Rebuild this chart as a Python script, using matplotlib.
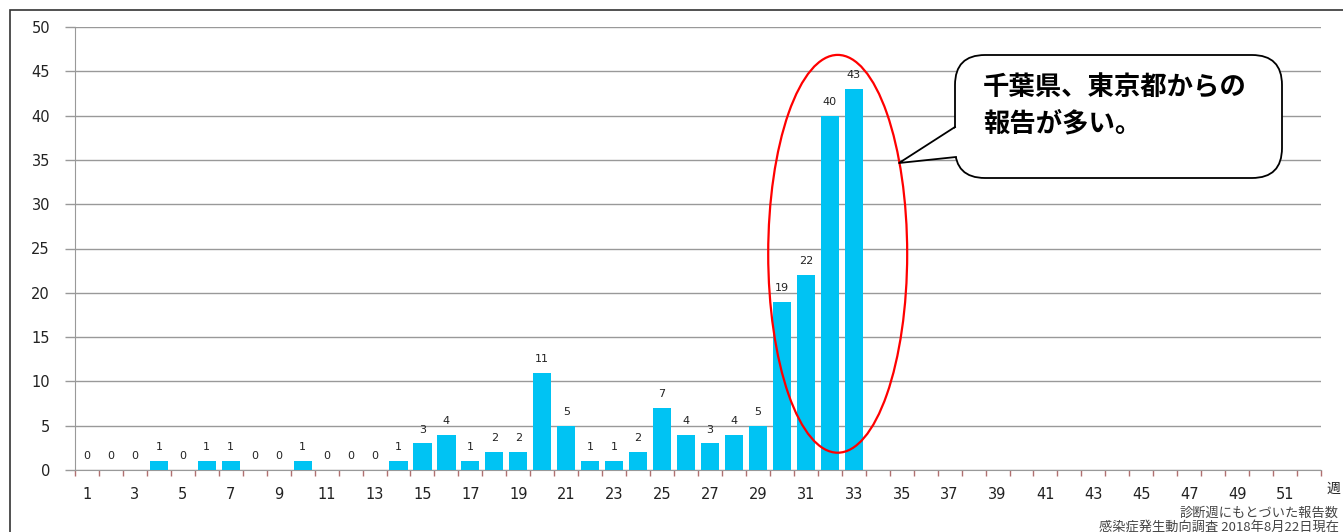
import matplotlib
matplotlib.use("Agg")
import matplotlib.pyplot as plt
from matplotlib.patches import Ellipse, FancyBboxPatch, Polygon, Rectangle
from matplotlib.lines import Line2D

plt.rcParams['font.family'] = ['DejaVu Sans', 'Noto Sans CJK JP']

# Weekly report counts (diagnosis week 1-33)
weeks = list(range(1, 34))
counts = [0, 0, 0, 1, 0, 1, 1, 0, 0, 1, 0, 0, 0, 1, 3, 4, 1, 2, 2, 11,
          5, 1, 1, 2, 7, 4, 3, 4, 5, 19, 22, 40, 43]
x_tick_weeks = list(range(1, 53, 2))
y_ticks = list(range(0, 51, 5))
callout_text = "千葉県、東京都からの\n報告が多い。"
note_line1 = "診断週にもとづいた報告数"
note_line2 = "感染症発生動向調査 2018年8月22日現在"
week_unit = "週"

W, H = 1343, 532
fig = plt.figure(figsize=(W / 100, H / 100), dpi=100)


def px(x, y):
    return (x / W, 1 - y / H)


# outer frame
fig.patches.append(Rectangle(px(10, 600), (1400 - 10) / W, (600 - 10) / H,
                             transform=fig.transFigure, fill=False,
                             edgecolor='#333333', lw=1.2))

ax = fig.add_axes([75 / W, 1 - 470 / H, (1321 - 75) / W, (470 - 27) / H])
ax.bar(weeks, counts, width=0.76, color='#00C3F3', zorder=3)
for w, c in zip(weeks, counts):
    ax.text(w, c + 1.0, str(c), ha='center', va='bottom', fontsize=8,
            color='#222222', zorder=4)

ax.set_xlim(0.5, 52.5)
ax.set_ylim(0, 50)
ax.set_yticks(y_ticks)
ax.set_xticks(x_tick_weeks)
ax.set_xticks([i + 0.5 for i in range(0, 53)], minor=True)
ax.grid(axis='y', color='#999999', lw=1, zorder=1)
for s in ['top', 'right']:
    ax.spines[s].set_visible(False)
ax.spines['left'].set_color('#999999')
ax.spines['bottom'].set_color('#999999')
ax.tick_params(axis='y', length=7, width=1, color='#999999', pad=11,
               labelsize=10.5, labelcolor='#222222')
ax.tick_params(axis='x', which='major', length=0, pad=12, labelsize=10.5,
               labelcolor='#222222')
ax.tick_params(axis='x', which='minor', length=4, width=1, color='#b07070',
               direction='out')
fig.text(1326 / W, 1 - 489 / H, week_unit, ha='left', va='center',
         fontsize=10, family=['Noto Sans CJK JP'], color='#222222')

# highlight of the latest weeks
ax.add_patch(Ellipse((32.33, 24.4), 5.8, 44.9, fill=False, edgecolor='#ff0000',
                     lw=1.6, zorder=5))

# speech-bubble callout
box = FancyBboxPatch(px(955 + 24, 178 - 24), (1282 - 955 - 48) / W, (178 - 55 - 48) / H,
                     boxstyle="round,pad=0,rounding_size=0.03",
                     transform=fig.transFigure, facecolor='white',
                     edgecolor='black', lw=1.3, zorder=10)
box.set_boxstyle("round", pad=24 / W, rounding_size=30 / W)
box.set_mutation_aspect(W / H)
fig.patches.append(box)
fig.patches.append(Polygon([px(957, 127), px(899, 163), px(957, 157)],
                           closed=True, transform=fig.transFigure,
                           facecolor='white', edgecolor='none', zorder=11))
fig.lines.append(Line2D([955 / W, 899 / W, 956 / W],
                        [1 - 127 / H, 1 - 163 / H, 1 - 157 / H],
                        transform=fig.transFigure, color='black', lw=1.3,
                        zorder=12))
fig.text(983 / W, 1 - 106 / H, callout_text, ha='left', va='center',
         fontsize=19, fontweight='bold', family=['Noto Sans CJK JP'],
         linespacing=1.4, color='black', zorder=13)

fig.text(1339 / W, 1 - 513 / H, note_line1, ha='right', va='center',
         fontsize=9.5, family=['Noto Sans CJK JP'], color='#444444')
fig.text(1339 / W, 1 - 527 / H, note_line2, ha='right', va='center',
         fontsize=9.5, family=['Noto Sans CJK JP', 'DejaVu Sans'], color='#444444')

fig.savefig("out.png", dpi=100)
